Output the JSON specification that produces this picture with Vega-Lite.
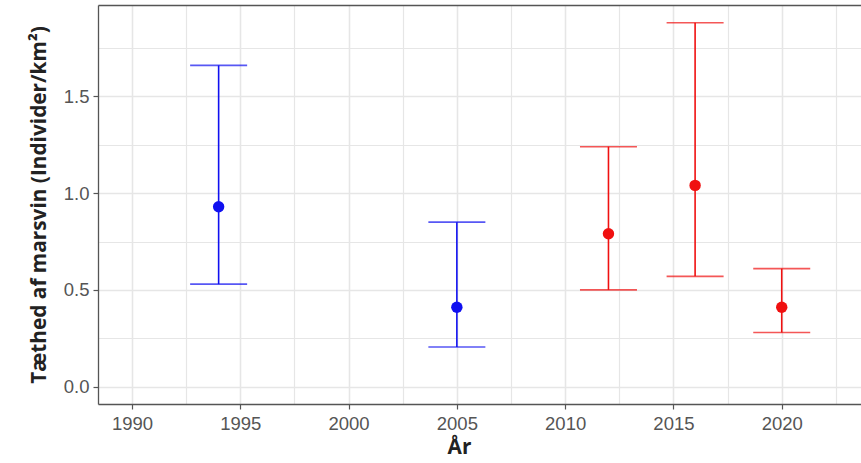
{
  "$schema": "https://vega.github.io/schema/vega-lite/v6.json",
  "autosize": "none",
  "padding": {"left": 98, "top": 5, "right": 0, "bottom": 59},
  "width": 763,
  "height": 399,
  "background": "white",
  "config": {
    "view": {"stroke": null},
    "axis": {
      "labelFont": "Liberation Sans",
      "labelFontSize": 18.5,
      "labelColor": "#555555",
      "titleFont": "Open Sans",
      "titleFontWeight": "bold",
      "titleFontSize": 20.8,
      "titleColor": "#222222",
      "tickColor": "#555555",
      "tickSize": 5,
      "tickWidth": 1.2,
      "domainColor": "#555555",
      "domainWidth": 1.3,
      "gridColor": "#E6E6E6"
    }
  },
  "data": {
    "values": [
      {"aar": 1994, "taethed": 0.93, "nedre": 0.53, "oevre": 1.66, "gruppe": "A"},
      {"aar": 2005, "taethed": 0.41, "nedre": 0.205, "oevre": 0.85, "gruppe": "A"},
      {"aar": 2012, "taethed": 0.79, "nedre": 0.50, "oevre": 1.24, "gruppe": "B"},
      {"aar": 2016, "taethed": 1.04, "nedre": 0.57, "oevre": 1.88, "gruppe": "B"},
      {"aar": 2020, "taethed": 0.41, "nedre": 0.28, "oevre": 0.61, "gruppe": "B"}
    ]
  },
  "resolve": {"axis": {"x": "independent"}},
  "layer": [
    {
      "mark": {"type": "rule", "strokeWidth": 1.6},
      "encoding": {
        "x": {
          "field": "aar", "type": "quantitative",
          "scale": {"domain": [1988.43, 2023.66], "nice": false, "zero": false},
          "axis": {
            "orient": "bottom",
            "title": "År",
            "titleX": 361,
            "titlePadding": 5,
            "values": [1990, 1992.5, 1995, 1997.5, 2000, 2002.5, 2005, 2007.5, 2010, 2012.5, 2015, 2017.5, 2020, 2022.5],
            "labelExpr": "datum.value % 5 == 0 ? format(datum.value, 'd') : ''",
            "labelPadding": 5,
            "tickOpacity": {"condition": {"test": "datum.value % 5 != 0", "value": 0}, "value": 1},
            "gridWidth": {"condition": {"test": "datum.value % 5 != 0", "value": 1.2}, "value": 1.6},
            "grid": true
          }
        },
        "y": {
          "field": "nedre", "type": "quantitative",
          "scale": {"domain": [-0.0895, 1.972], "nice": false, "zero": false},
          "axis": {
            "title": "Tæthed af marsvin (Individer/km²)",
            "titlePadding": 14,
            "values": [0, 0.25, 0.5, 0.75, 1, 1.25, 1.5, 1.75],
            "labelExpr": "datum.value % 0.5 == 0 ? format(datum.value, '.1f') : ''",
            "labelPadding": 4,
            "tickOpacity": {"condition": {"test": "datum.value % 0.5 != 0", "value": 0}, "value": 1},
            "gridWidth": {"condition": {"test": "datum.value % 0.5 != 0", "value": 1.2}, "value": 1.6},
            "grid": true
          }
        },
        "y2": {"field": "oevre"},
        "color": {
          "field": "gruppe", "type": "nominal",
          "scale": {"domain": ["A", "B"], "range": ["#1010F0", "#F01010"]},
          "legend": null
        }
      }
    },
    {
      "mark": {"type": "tick", "orient": "horizontal", "size": 57, "thickness": 1.6},
      "encoding": {
        "x": {
          "field": "aar", "type": "quantitative",
          "axis": {"orient": "top", "labels": false, "ticks": false, "grid": false, "domain": true, "title": null}
        },
        "y": {"field": "nedre", "type": "quantitative"},
        "color": {"field": "gruppe", "type": "nominal", "legend": null}
      }
    },
    {
      "mark": {"type": "tick", "orient": "horizontal", "size": 57, "thickness": 1.6},
      "encoding": {
        "x": {"field": "aar", "type": "quantitative", "axis": null},
        "y": {"field": "oevre", "type": "quantitative"},
        "color": {"field": "gruppe", "type": "nominal", "legend": null}
      }
    },
    {
      "mark": {"type": "circle", "size": 130, "opacity": 1},
      "encoding": {
        "x": {"field": "aar", "type": "quantitative", "axis": null},
        "y": {"field": "taethed", "type": "quantitative"},
        "color": {"field": "gruppe", "type": "nominal", "legend": null}
      }
    }
  ]
}
